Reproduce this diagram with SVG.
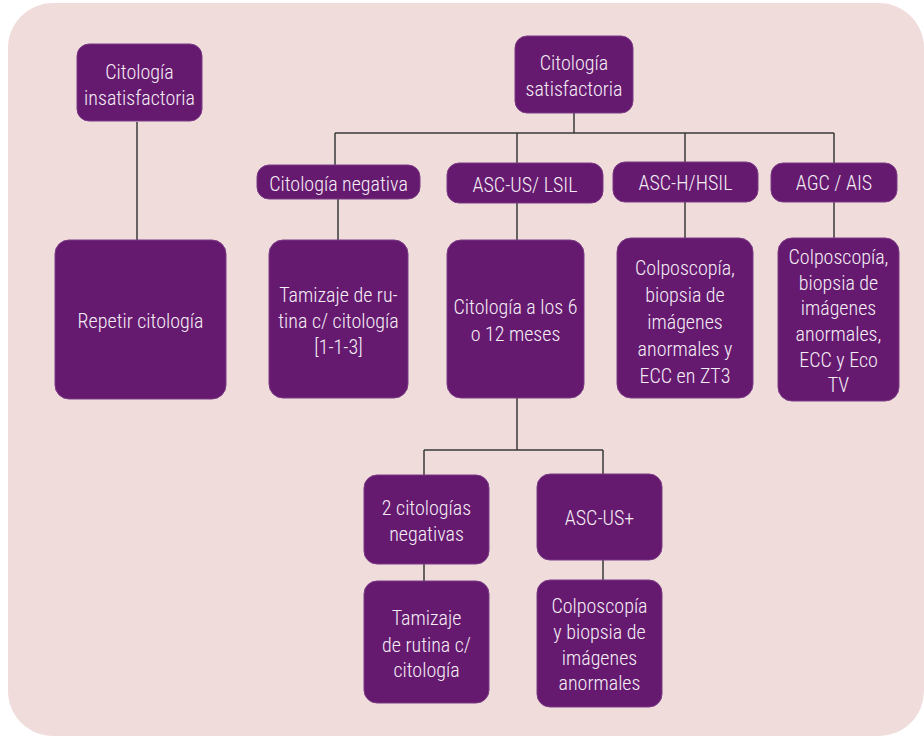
<svg xmlns="http://www.w3.org/2000/svg" width="924" height="736" viewBox="0 0 924 736">
<style>
.n{fill:#651A70;stroke:#7a3a84;stroke-width:1}
.t{fill:#F6EEF6;font-family:"Liberation Sans Narrow","Roboto Condensed","Liberation Sans",sans-serif;font-weight:300;font-size:20px;text-anchor:middle}
.c{stroke:#3a3a3a;stroke-width:1.5;fill:none}
</style>
<rect x="8" y="3" width="916" height="733" rx="45" fill="#F1DCDC"/>
<g id="connectors">
<path class="c" d="M137 122V241"/>
<path class="c" d="M574 113V133M335 133H834M335 133V165M517 133V163M685 133V162M834 133V163"/>
<path class="c" d="M338 199V240M517 203V240M685 202V238M834 202V238"/>
<path class="c" d="M517 398V450M424 450H603M424 450V475M603 450V474"/>
<path class="c" d="M424 564V581M603 560V580"/>
</g>
<g id="n-insat"><rect class="n" x="77" y="44" width="125" height="77" rx="12"/><text class="t" x="139.5" y="79">Citología</text><text class="t" x="139.5" y="105">insatisfactoria</text></g>
<g id="n-repetir"><rect class="n" x="55" y="240" width="171" height="159" rx="14"/><text class="t" x="140.5" y="328">Repetir citología</text></g>
<g id="n-sat"><rect class="n" x="515" y="36" width="118" height="77" rx="12"/><text class="t" x="574" y="70">Citología</text><text class="t" x="574" y="96">satisfactoria</text></g>
<g id="n-neg"><rect class="n" x="257" y="165" width="163" height="34" rx="12"/><text class="t" x="338.5" y="191">Citología negativa</text></g>
<g id="n-ascus"><rect class="n" x="447" y="163" width="156" height="40" rx="12"/><text class="t" x="525" y="192">ASC-US/ LSIL</text></g>
<g id="n-asch"><rect class="n" x="613" y="162" width="145" height="40" rx="12"/><text class="t" x="685.5" y="190">ASC-H/HSIL</text></g>
<g id="n-agc"><rect class="n" x="771" y="163" width="126" height="39" rx="12"/><text class="t" x="834" y="190">AGC / AIS</text></g>
<g id="n-tamizaje1"><rect class="n" x="269" y="240" width="139" height="158" rx="14"/><text class="t" x="338.5" y="302">Tamizaje de ru-</text><text class="t" x="338.5" y="328">tina c/ citología</text><text class="t" x="338.5" y="354">[1-1-3]</text></g>
<g id="n-cito612"><rect class="n" x="447" y="240" width="137" height="158" rx="14"/><text class="t" x="515.5" y="314">Citología a los 6</text><text class="t" x="515.5" y="341">o 12 meses</text></g>
<g id="n-colpo1"><rect class="n" x="617" y="238" width="136" height="160" rx="14"/><text class="t" x="685" y="275">Colposcopía,</text><text class="t" x="685" y="302">biopsia de</text><text class="t" x="685" y="329">imágenes</text><text class="t" x="685" y="356">anormales y</text><text class="t" x="685" y="383">ECC en ZT3</text></g>
<g id="n-colpo2"><rect class="n" x="778" y="238" width="121" height="163" rx="14"/><text class="t" x="838.5" y="264">Colposcopía,</text><text class="t" x="838.5" y="290">biopsia de</text><text class="t" x="838.5" y="315">imágenes</text><text class="t" x="838.5" y="341">anormales,</text><text class="t" x="838.5" y="367">ECC y Eco</text><text class="t" x="838.5" y="392">TV</text></g>
<g id="n-2neg"><rect class="n" x="364" y="475" width="125" height="89" rx="13"/><text class="t" x="426.5" y="515">2 citologías</text><text class="t" x="426.5" y="541">negativas</text></g>
<g id="n-ascusplus"><rect class="n" x="537" y="474" width="125" height="86" rx="13"/><text class="t" x="599.5" y="525">ASC-US+</text></g>
<g id="n-tamizaje2"><rect class="n" x="364" y="581" width="125" height="122" rx="13"/><text class="t" x="426.5" y="625">Tamizaje</text><text class="t" x="426.5" y="652">de rutina c/</text><text class="t" x="426.5" y="677">citología</text></g>
<g id="n-colpo3"><rect class="n" x="537" y="580" width="125" height="127" rx="13"/><text class="t" x="599.5" y="613">Colposcopía</text><text class="t" x="599.5" y="639">y biopsia de</text><text class="t" x="599.5" y="665">imágenes</text><text class="t" x="599.5" y="690">anormales</text></g>
</svg>
